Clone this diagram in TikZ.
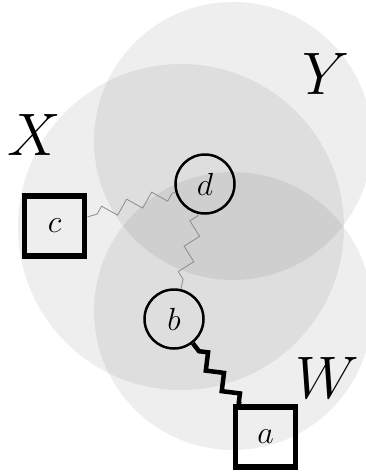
\RequirePackage{fix-cm}
\documentclass[tikz,border=0pt]{standalone}
\usetikzlibrary{decorations.pathmorphing}
\begin{document}
\begin{tikzpicture}[x=1pt,y=-1pt,
  region/.style={fill=black, fill opacity=0.067, draw=none},
  sq/.style={draw, rectangle, line width=5.5pt, minimum size=60pt, inner sep=0pt, font=\fontsize{32}{38}\selectfont},
  rnd/.style={draw, circle, line width=2.5pt, minimum size=59pt, inner sep=0pt, font=\fontsize{32}{38}\selectfont},
  setlabel/.style={inner sep=0pt, font=\fontsize{60}{72}\selectfont},
  zz/.style={decorate, decoration={zigzag, segment length=26pt, amplitude=6.5pt, pre length=10pt, post length=0pt}},
  thinzz/.style={zz, draw=black!45, line width=0.8pt},
  thickzz/.style={zz, draw=black, line width=4.5pt}]
\useasboundingbox (0,0) rectangle (365,472);
\fill[region] (181,227) circle[radius=163];
\fill[region] (233,141) circle[radius=139];
\fill[region] (233,311) circle[radius=139];
\node[setlabel] (X) at (34,135) {$X$};
\node[setlabel] (Y) at (326,74) {$Y$};
\node[setlabel] (W) at (327,378) {$W$};
\node[sq] (c) at (54.7,226) {$c$};
\node[rnd] (d) at (205,184) {$d$};
\node[rnd] (b) at (174,319) {$b$};
\node[sq] (a) at (265.5,437) {$a$};
\draw[thinzz] (c) -- (d);
\draw[thinzz] (b) -- (d);
\draw[thickzz] (b) -- (a);
\end{tikzpicture}
\end{document}
